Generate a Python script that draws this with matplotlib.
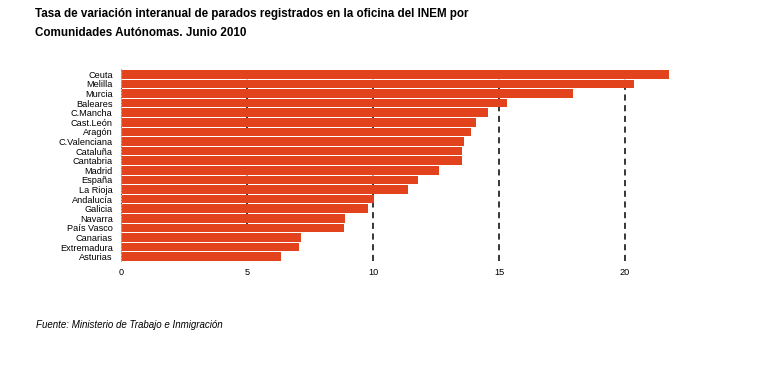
import matplotlib.pyplot as plt
import numpy as np

plt.rcParams['font.family'] = ['Liberation Sans', 'DejaVu Sans']

## Data ##

regiones = ["Ceuta", "Melilla", "Murcia", "Baleares", "C.Mancha", "Cast.León",
            "Aragón", "C.Valenciana", "Cataluña", "Cantabria", "Madrid", "España",
            "La Rioja", "Andalucía", "Galicia", "Navarra", "País Vasco", "Canarias",
            "Extremadura", "Asturias"]
variacion = [21.75, 20.35, 17.95, 15.3, 14.55, 14.1, 13.9, 13.6, 13.55, 13.55,
             12.6, 11.8, 11.4, 10.05, 9.8, 8.9, 8.85, 7.15, 7.05, 6.35]
ticks_x = [0, 5, 10, 15, 20]

titulo_1 = "Tasa de variación interanual de parados registrados en la oficina del INEM por"
titulo_2 = "Comunidades Autónomas. Junio 2010"
fuente = "Fuente: Ministerio de Trabajo e Inmigración"

## Plot ##

fig = plt.figure(figsize=(7.62, 3.9), dpi=100)
ax = fig.add_axes([0.1588, 0.3295, 0.7937, 0.4923])

pos = np.arange(len(regiones))
ax.barh(pos, variacion, height=0.88, color='#E2431D', zorder=2)
ax.set_ylim(len(regiones) - 0.5, -0.5)
ax.set_xlim(0, 24)

ax.set_yticks(pos)
ax.set_yticklabels(regiones, fontsize=6.6)
ax.set_xticks(ticks_x)
ax.set_xticklabels([str(t) for t in ticks_x], fontsize=6.6)
ax.tick_params(axis='y', length=0, pad=6)
ax.tick_params(axis='x', length=0, pad=5)

ax.set_axisbelow(True)
ax.xaxis.grid(True, color='black', linestyle=(0, (4, 3)), linewidth=1.1)

for s in ['top', 'right', 'bottom']:
    ax.spines[s].set_visible(False)
ax.spines['left'].set_color('#b0b0b0')
ax.spines['left'].set_linestyle(':')
ax.spines['left'].set_linewidth(0.8)

fig.text(35 / 762, 1 - 14 / 390, titulo_1, fontsize=8.4, fontweight='bold',
         ha='left', va='center')
fig.text(35 / 762, 1 - 33 / 390, titulo_2, fontsize=8.4, fontweight='bold',
         ha='left', va='center')
fig.text(36 / 762, 1 - 325 / 390, fuente, fontsize=7, style='italic',
         ha='left', va='center')

fig.savefig('out.png', dpi=100)
